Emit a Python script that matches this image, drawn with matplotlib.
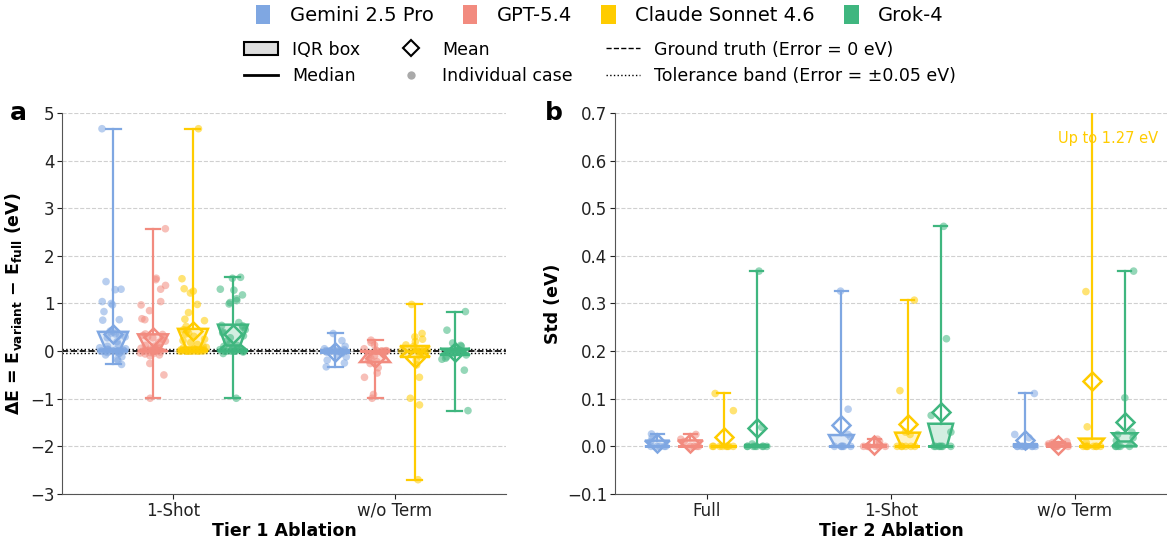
import numpy as np
import matplotlib.pyplot as plt
from matplotlib.patches import Patch
from matplotlib.lines import Line2D

plt.rcParams['font.family'] = ['DejaVu Sans']

# 模型与颜色
models = ['Gemini 2.5 Pro', 'GPT-5.4', 'Claude Sonnet 4.6', 'Grok-4']
colors = ['#7FA7E2', '#F28B7F', '#FFCC00', '#3FB67F']

# Tier 1: ΔE = E_variant - E_full (eV)
tier1_groups = ['1-Shot', 'w/o Term']
gemini_t1_1shot = [4.67, 1.46, 1.30, 1.29, 1.04, 1.00, 0.97, 0.83, 0.66, 0.65, 0.42, 0.40, 0.38, 0.36,
                   0.33, 0.30, 0.28, 0.20, 0.14, 0.10, 0.07, 0.05, 0.04, 0.03, 0.02, 0.02, 0.01, 0.01,
                   0.0, 0.0, 0.0, 0.0, 0.0, 0.0, -0.01, -0.02, -0.03, -0.04, -0.05, -0.08, -0.12,
                   -0.17, -0.20, -0.28]
gpt_t1_1shot = [2.57, 1.53, 1.50, 1.38, 1.30, 1.04, 0.97, 0.85, 0.68, 0.66, 0.36, 0.35, 0.33, 0.30,
                0.28, 0.25, 0.21, 0.18, 0.12, 0.10, 0.08, 0.06, 0.05, 0.04, 0.03, 0.02, 0.01, 0.0,
                0.0, 0.0, 0.0, 0.0, 0.0, -0.01, -0.02, -0.03, -0.04, -0.05, -0.06, -0.08, -0.10,
                -0.26, -0.50, -0.99]
claude_t1_1shot = [4.67, 1.52, 1.31, 1.26, 1.22, 0.98, 0.81, 0.67, 0.64, 0.52, 0.45, 0.44, 0.38, 0.36,
                   0.31, 0.25, 0.22, 0.18, 0.14, 0.10, 0.08, 0.07, 0.05, 0.04, 0.03, 0.02, 0.02, 0.01,
                   0.01, 0.0, 0.0, 0.0, 0.0, 0.0, 0.0, 0.0, 0.0, 0.0, 0.0, 0.0]
grok_t1_1shot = [1.55, 1.53, 1.30, 1.28, 1.18, 1.10, 1.06, 1.02, 0.99, 0.60, 0.54, 0.53, 0.50, 0.45,
                 0.40, 0.38, 0.32, 0.28, 0.21, 0.15, 0.12, 0.10, 0.07, 0.05, 0.04, 0.03, 0.02, 0.01,
                 0.0, 0.0, 0.0, 0.0, 0.0, 0.0, 0.0, 0.0, 0.0, -0.02, -0.05, -0.99]
gemini_t1_woterm = [0.37, 0.22, 0.10, 0.05, 0.03, 0.02, 0.01, 0.01, 0.0, 0.0, 0.0, 0.0, 0.0, 0.0,
                    0.0, -0.01, -0.02, -0.03, -0.05, -0.08, -0.12, -0.19, -0.25, -0.33]
gpt_t1_woterm = [0.23, 0.18, 0.13, 0.05, 0.02, 0.01, 0.0, 0.0, 0.0, 0.0, 0.0, -0.02, -0.05, -0.08,
                 -0.10, -0.15, -0.19, -0.22, -0.26, -0.35, -0.46, -0.55, -0.91, -0.99]
claude_t1_woterm = [0.98, 0.37, 0.30, 0.25, 0.20, 0.13, 0.10, 0.05, 0.03, 0.01, 0.0, 0.0, 0.0, 0.0,
                    0.0, -0.02, -0.05, -0.10, -0.19, -0.29, -0.55, -0.99, -1.13, -2.70]
grok_t1_woterm = [0.83, 0.44, 0.17, 0.12, 0.10, 0.05, 0.03, 0.01, 0.0, 0.0, 0.0, 0.0, -0.01, -0.03,
                  -0.05, -0.08, -0.12, -0.15, -0.17, -0.40, -1.25]

# Tier 2: Std (eV)
tier2_groups = ['Full', '1-Shot', 'w/o Term']
gemini_t2_full = [0.026, 0.018, 0.01, 0.0, 0.0, 0.0, 0.0, 0.0]
gpt_t2_full = [0.025, 0.015, 0.01, 0.0, 0.0, 0.0, 0.0]
claude_t2_full = [0.111, 0.075, 0.0, 0.0, 0.0, 0.0, 0.0, 0.0, 0.0, 0.0]
grok_t2_full = [0.368, 0.04, 0.005, 0.0, 0.0, 0.0, 0.0, 0.0, 0.0, 0.0, 0.0]
gemini_t2_1shot = [0.326, 0.078, 0.025, 0.02, 0.0, 0.0, 0.0, 0.0, 0.0, 0.0]
gpt_t2_1shot = [0.015, 0.01, 0.0, 0.0, 0.0, 0.0, 0.0, 0.0]
claude_t2_1shot = [0.307, 0.117, 0.03, 0.025, 0.0, 0.0, 0.0, 0.0, 0.0, 0.0]
grok_t2_1shot = [0.462, 0.226, 0.065, 0.03, 0.0, 0.0, 0.0, 0.0, 0.0, 0.0, 0.0]
gemini_t2_woterm = [0.111, 0.025, 0.018, 0.0, 0.0, 0.0, 0.0, 0.0, 0.0, 0.0, 0.0, 0.0]
gpt_t2_woterm = [0.01, 0.008, 0.005, 0.0, 0.0, 0.0, 0.0, 0.0]
claude_t2_woterm = [1.27, 0.325, 0.041, 0.008, 0.0, 0.0, 0.0, 0.0, 0.0, 0.0, 0.0, 0.0]
grok_t2_woterm = [0.368, 0.102, 0.03, 0.025, 0.018, 0.012, 0.0, 0.0, 0.0, 0.0, 0.0]

tier1 = [[gemini_t1_1shot, gemini_t1_woterm], [gpt_t1_1shot, gpt_t1_woterm],
         [claude_t1_1shot, claude_t1_woterm], [grok_t1_1shot, grok_t1_woterm]]
tier2 = [[gemini_t2_full, gemini_t2_1shot, gemini_t2_woterm], [gpt_t2_full, gpt_t2_1shot, gpt_t2_woterm],
         [claude_t2_full, claude_t2_1shot, claude_t2_woterm], [grok_t2_full, grok_t2_1shot, grok_t2_woterm]]

offsets = [-0.27, -0.09, 0.09, 0.27]
box_w = 0.135
rng = np.random.default_rng(3)  # 仅用于散点的横向抖动


def draw_panel(ax, groups, data):
    base = np.arange(len(groups))
    for m, (vals, c) in enumerate(zip(data, colors)):
        pos = base + offsets[m]
        # 缺口延伸到四分位，画成梯形的 IQR 框
        ci = [np.percentile(v, [25, 75]) for v in vals]
        ax.boxplot(vals, positions=pos, widths=box_w, notch=True, conf_intervals=ci, whis=(0, 100),
                   patch_artist=True, showmeans=True, showfliers=False, manage_ticks=False,
                   boxprops=dict(facecolor=c + '3a', edgecolor=c, linewidth=1.8),
                   medianprops=dict(color=c, linewidth=1.8),
                   whiskerprops=dict(color=c, linewidth=1.6),
                   capprops=dict(color=c, linewidth=1.6),
                   meanprops=dict(marker='D', markerfacecolor='none', markeredgecolor=c,
                                  markersize=9.5, markeredgewidth=1.8))
        for k, v in enumerate(vals):
            xs = pos[k] + rng.uniform(-0.06, 0.06, len(v))
            ax.scatter(xs, v, s=30, color=c, alpha=0.55, edgecolors='none', zorder=3)
    ax.set_xticks(base)
    ax.set_xticklabels(groups)
    ax.set_xlim(-0.5, len(groups) - 0.5)
    ax.yaxis.grid(True, linestyle='--', color='#d0d0d0', linewidth=0.8)
    ax.set_axisbelow(True)
    for s in ['top', 'right']:
        ax.spines[s].set_visible(False)
    for s in ['left', 'bottom']:
        ax.spines[s].set_color('#555555')
    ax.tick_params(labelsize=12, colors='#222222', pad=2)


fig = plt.figure(figsize=(11.67, 5.42), dpi=100)
ax1 = fig.add_axes([0.0531, 0.0886, 0.3805, 0.7029])
ax2 = fig.add_axes([0.527, 0.0886, 0.473, 0.7029])

draw_panel(ax1, tier1_groups, tier1)
ax1.axhline(0, color='black', linestyle='--', linewidth=1.2, zorder=1)
ax1.axhline(0.05, color='black', linestyle=':', linewidth=1.0, zorder=1)
ax1.axhline(-0.05, color='black', linestyle=':', linewidth=1.0, zorder=1)
ax1.set_ylim(-3, 5)
ax1.set_yticks(np.arange(-3, 6, 1))
ax1.set_xlabel('Tier 1 Ablation', fontsize=12.5, fontweight='bold', labelpad=2)
ax1.set_ylabel(r'ΔE = E$_{\mathbf{variant}}$ − E$_{\mathbf{full}}$ (eV)', fontsize=12.5, fontweight='bold')

draw_panel(ax2, tier2_groups, tier2)
ax2.set_ylim(-0.1, 0.7)
ax2.set_yticks(np.round(np.arange(-0.1, 0.71, 0.1), 1))
ax2.set_xlabel('Tier 2 Ablation', fontsize=12.5, fontweight='bold', labelpad=2)
ax2.set_ylabel('Std (eV)', fontsize=12.5, fontweight='bold')
ax2.text(2.45, 0.647, 'Up to %.2f eV' % max(claude_t2_woterm), color=colors[2], fontsize=10.5,
         ha='right', va='center')

fig.text(0.0154, 0.792, 'a', fontsize=18, fontweight='bold', ha='center', va='center')
fig.text(0.4747, 0.792, 'b', fontsize=18, fontweight='bold', ha='center', va='center')

# 图例
model_handles = [Patch(facecolor=c, edgecolor='none', label=m) for m, c in zip(models, colors)]
fig.legend(handles=model_handles, loc='center', bbox_to_anchor=(0.514, 0.972), ncol=4,
           frameon=False, fontsize=14, handlelength=0.75, handleheight=1.15,
           handletextpad=1.0, columnspacing=1.5)
style_handles = [
    Patch(facecolor='#dddddd', edgecolor='black', linewidth=1.5, label='IQR box'),
    Line2D([], [], color='black', linewidth=2, label='Median'),
    Line2D([], [], marker='D', color='none', markerfacecolor='white', markeredgecolor='black',
           markersize=8, markeredgewidth=1.5, label='Mean'),
    Line2D([], [], marker='o', color='none', markerfacecolor='#aaaaaa', markeredgecolor='none',
           markersize=6, label='Individual case'),
    Line2D([], [], color='black', linestyle='--', linewidth=1.0, label='Ground truth (Error = 0 eV)'),
    Line2D([], [], color='black', linestyle=':', linewidth=1.0, label='Tolerance band (Error = ±0.05 eV)'),
]
fig.legend(handles=style_handles, loc='center', bbox_to_anchor=(0.514, 0.884), ncol=3,
           frameon=False, fontsize=12.5, handlelength=2.0, handletextpad=0.8, columnspacing=1.9)

fig.savefig('out.png', dpi=100)
